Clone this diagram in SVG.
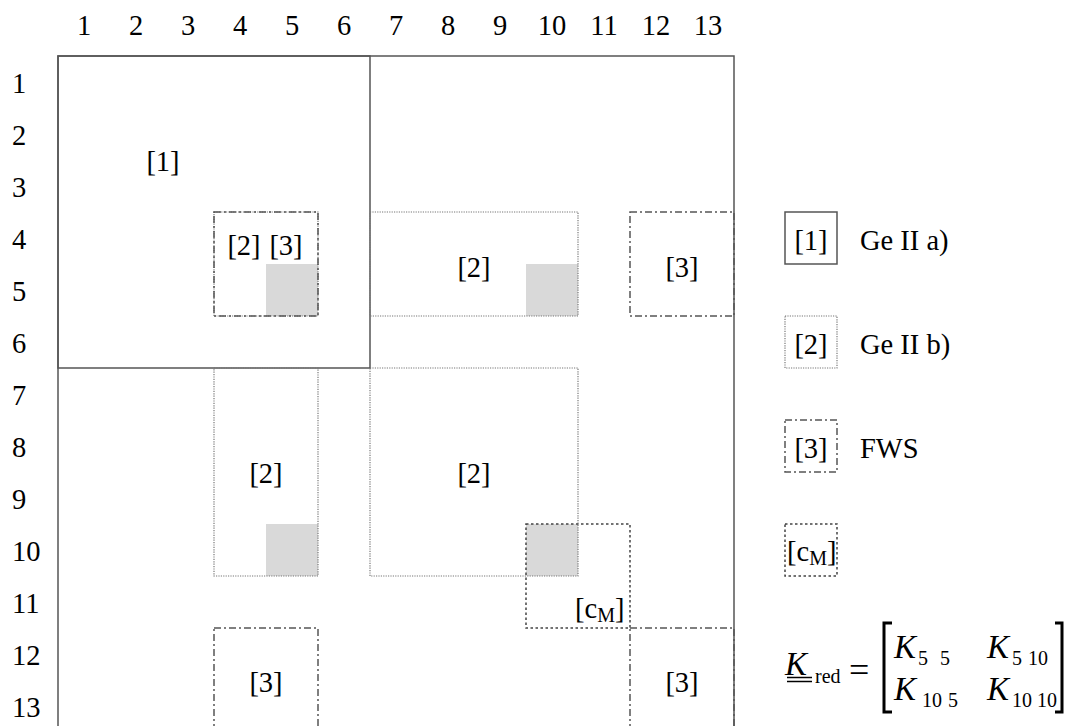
<svg xmlns="http://www.w3.org/2000/svg" width="1070" height="726" viewBox="0 0 1070 726">
<style>
text{font-family:"Liberation Serif","Times New Roman",serif;font-size:28.5px;fill:#000}
.c{text-anchor:middle}
.solid{fill:none;stroke:#555;stroke-width:1.5}
.dot{fill:none;stroke:#777;stroke-width:1.2;stroke-dasharray:1.2 1.2}
.dd{fill:none;stroke:#555;stroke-width:1.5;stroke-dasharray:7 3 2 3}
.cm{fill:none;stroke:#444;stroke-width:1.5;stroke-dasharray:2.5 2.5}
.g{fill:#d9d9d9}
.k{font-style:italic;font-size:33px}
.s{font-size:20px}
.eq{font-size:36px}
</style>
<rect width="1070" height="726" fill="#fff"/>
<g id="col-numbers" class="c">
<text x="84" y="35">1</text><text x="136" y="35">2</text><text x="188" y="35">3</text><text x="240" y="35">4</text><text x="292" y="35">5</text><text x="344" y="35">6</text><text x="396" y="35">7</text><text x="448" y="35">8</text><text x="500" y="35">9</text><text x="552" y="35">10</text><text x="604" y="35">11</text><text x="656" y="35">12</text><text x="708" y="35">13</text>
</g>
<g id="row-numbers">
<text x="12" y="93">1</text><text x="12" y="145">2</text><text x="12" y="197">3</text><text x="12" y="249">4</text><text x="12" y="301">5</text><text x="12" y="353">6</text><text x="12" y="405">7</text><text x="12" y="457">8</text><text x="12" y="509">9</text><text x="12" y="561">10</text><text x="12" y="613">11</text><text x="12" y="665">12</text><text x="12" y="717">13</text>
</g>
<g id="gray-cells">
<rect class="g" x="266" y="264" width="52" height="52"/>
<rect class="g" x="526" y="264" width="52" height="52"/>
<rect class="g" x="266" y="524" width="52" height="52"/>
<rect class="g" x="526" y="524" width="52" height="52"/>
</g>
<g id="matrix">
<rect class="solid" x="58" y="56" width="676" height="690"/>
<rect class="solid" x="58" y="56" width="312" height="312"/>
<text class="c" x="163" y="171">[1]</text>
</g>
<g id="block-2-33">
<rect class="dot" x="214" y="212" width="104" height="104"/>
<rect class="dd" x="214" y="212" width="104" height="104"/>
<text class="c" x="244" y="255">[2]</text>
<text class="c" x="286" y="255">[3]</text>
</g>
<g id="block-2-top">
<rect class="dot" x="370" y="212" width="208" height="104"/>
<text class="c" x="474" y="277">[2]</text>
</g>
<g id="block-3-top">
<rect class="dd" x="630" y="212" width="104" height="104"/>
<text class="c" x="682" y="277">[3]</text>
</g>
<g id="block-2-left">
<rect class="dot" x="214" y="368" width="104" height="208"/>
<text class="c" x="266" y="483">[2]</text>
</g>
<g id="block-2-mid">
<rect class="dot" x="370" y="368" width="208" height="208"/>
<text class="c" x="474" y="483">[2]</text>
</g>
<g id="block-cm">
<rect class="cm" x="526" y="524" width="104" height="104"/>
<text x="575" y="618">[c<tspan font-size="20" dy="4">M</tspan><tspan dy="-4">]</tspan></text>
</g>
<g id="block-3-bl">
<rect class="dd" x="214" y="628" width="104" height="120"/>
<text class="c" x="266" y="692">[3]</text>
</g>
<g id="block-3-br">
<rect class="dd" x="630" y="628" width="104" height="120"/>
<text class="c" x="682" y="692">[3]</text>
</g>
<g id="legend">
<rect class="solid" x="785" y="212" width="52" height="52" stroke="#333"/>
<text class="c" x="811" y="250">[1]</text>
<text x="860" y="250">Ge II a)</text>
<rect class="dot" x="785" y="316" width="52" height="52"/>
<text class="c" x="811" y="354">[2]</text>
<text x="860" y="354">Ge II b)</text>
<rect class="dd" x="785" y="420" width="52" height="52"/>
<text class="c" x="811" y="458">[3]</text>
<text x="860" y="458">FWS</text>
<rect class="cm" x="785" y="524" width="52" height="52"/>
<text x="787" y="561">[c<tspan font-size="20" dy="4">M</tspan><tspan dy="-4">]</tspan></text>
</g>
<g id="formula">
<text class="k" x="785" y="675">K</text>
<line x1="787" y1="677.5" x2="812" y2="677.5" stroke="#000" stroke-width="1.5"/>
<line x1="787" y1="681.5" x2="812" y2="681.5" stroke="#000" stroke-width="1.5"/>
<text class="s" x="815" y="683">red</text>
<text class="eq" x="849" y="682">=</text>
<path d="M892 623 H884 V712 H892" fill="none" stroke="#000" stroke-width="3"/>
<path d="M1055 623 H1062 V712 H1055" fill="none" stroke="#000" stroke-width="3"/>
<text class="k" x="894" y="658">K</text><text class="s" y="665"><tspan x="918">5</tspan><tspan x="940">5</tspan></text>
<text class="k" x="987" y="658">K</text><text class="s" y="665"><tspan x="1012">5</tspan><tspan x="1028">10</tspan></text>
<text class="k" x="894" y="700">K</text><text class="s" y="707"><tspan x="922">10</tspan><tspan x="948">5</tspan></text>
<text class="k" x="987" y="700">K</text><text class="s" y="707"><tspan x="1012">10</tspan><tspan x="1037">10</tspan></text>
</g>
</svg>
